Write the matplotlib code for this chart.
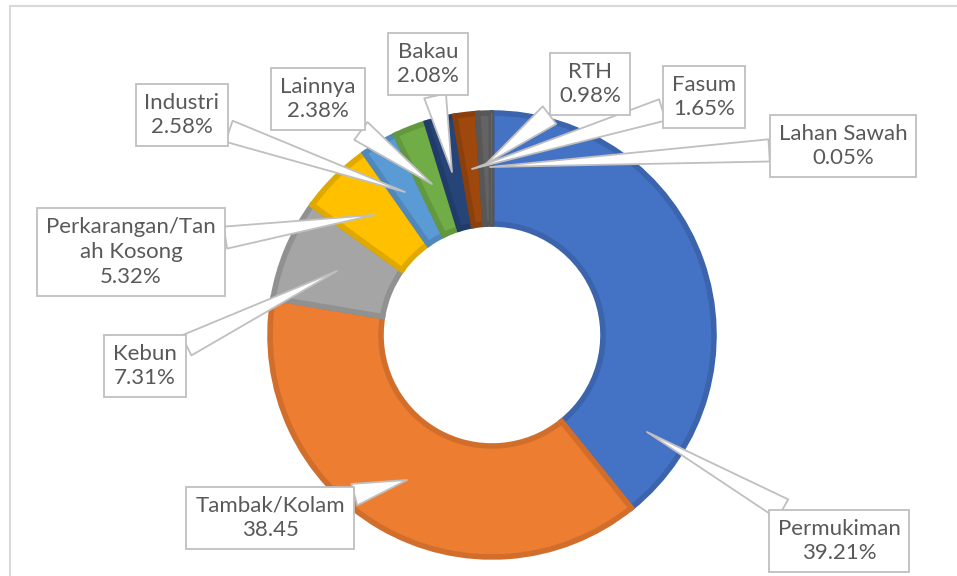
import matplotlib.pyplot as plt
import matplotlib.colors as mcolors

# land use shares, clockwise from 12 o'clock
names = ["Permukiman", "Tambak/Kolam", "Kebun", "Perkarangan/Tan\nah Kosong",
         "Industri", "Lainnya", "Bakau", "Fasum", "RTH", "Lahan Sawah"]
values = [39.21, 38.45, 7.31, 5.32, 2.58, 2.38, 2.08, 1.65, 0.98, 0.05]
value_text = ["39.21%", "38.45", "7.31%", "5.32%", "2.58%", "2.38%",
              "2.08%", "1.65%", "0.98%", "0.05%"]
colors = ["#4472C4", "#ED7D31", "#A5A5A5", "#FFC000", "#5B9BD5",
          "#70AD47", "#264478", "#9E480E", "#636363", "#997300"]

# callout box centres and pointer tips, pixels from top-left
box_pos = [(839, 541), (270, 518), (145, 366), (131, 252), (182, 115),
           (318, 99), (428, 64), (704, 97), (590, 84), (843, 146)]
tip_pos = [(647, 432), (407, 480), (337, 271), (374, 215), (405, 192),
           (432, 184), (452, 172), (472, 169), (486, 164), (490, 167)]

W, H = 957, 576
fig = plt.figure(figsize=(W / 100, H / 100), dpi=100)
ax = fig.add_axes([0, 0, 1, 1])

def darker(c, f=0.88):
    r, g, b = mcolors.to_rgb(c)
    return (r * f, g * f, b * f)

cx, cy, R = 492, H - 335, 222
wedges, _ = ax.pie(values, colors=colors, startangle=90, counterclock=False,
                   radius=R, center=(cx, cy), frame=True,
                   wedgeprops=dict(width=R * 0.5, linewidth=0))
for w, c, v in zip(wedges, colors, values):
    w.set_edgecolor(darker(c))
    w.set_linewidth(4 if v > 0.5 else 0)
ax.set_xlim(0, W)
ax.set_ylim(0, H)
ax.set_aspect("equal")
ax.axis("off")

# chart frame (runs off the right and bottom edges)
ax.plot([10, W], [H - 6, H - 6], color="#D9D9D9", lw=1.5)
ax.plot([10, 10], [0, H - 6], color="#D9D9D9", lw=1.5)

for name, vt, (bx, by), (tx, ty) in zip(names, value_text, box_pos, tip_pos):
    ax.annotate(name + "\n" + vt, xy=(tx, H - ty), xytext=(bx, H - by),
                ha="center", va="center", multialignment="center",
                fontsize=16, family="Lato", color="#595959",
                linespacing=1.3, zorder=5,
                bbox=dict(boxstyle="square,pad=0.4", fc="white",
                          ec="#BFBFBF", lw=1.3),
                arrowprops=dict(arrowstyle="wedge,tail_width=1.0",
                                fc="white", ec="#BFBFBF", lw=1.3,
                                shrinkA=0, shrinkB=0))

fig.savefig("out.png", dpi=100)
